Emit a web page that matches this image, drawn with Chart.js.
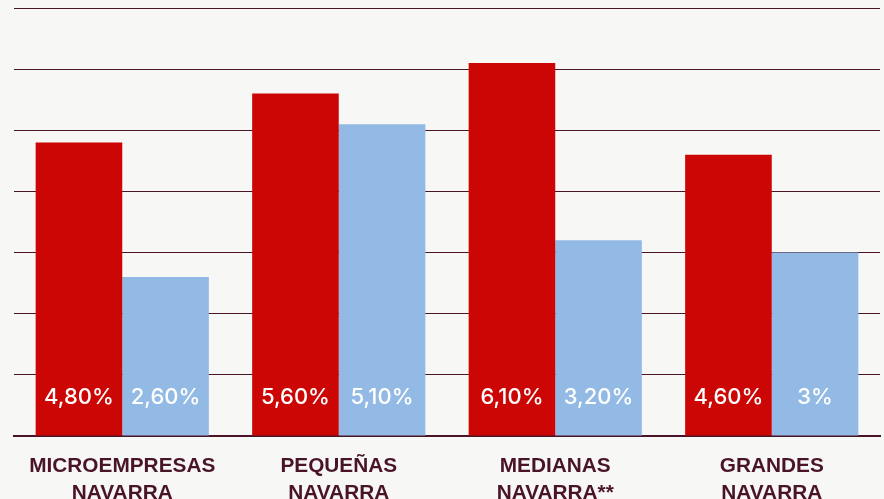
<!DOCTYPE html>
<html>
<head>
<meta charset="utf-8">
<script src="https://cdn.jsdelivr.net/npm/chart.js@4/dist/chart.umd.min.js"></script>
<style>
  html, body { margin: 0; padding: 0; background: #f7f7f5; }
  #wrap { width: 884px; height: 499px; }
</style>
</head>
<body>
<div id="wrap"><canvas id="grafica"></canvas></div>
<script>
const categorias = [
  ["MICROEMPRESAS", "NAVARRA"],
  ["PEQUEÑAS", "NAVARRA"],
  ["MEDIANAS", "NAVARRA**"],
  ["GRANDES", "NAVARRA"]
]
const valoresRojo = [4.8, 5.6, 6.1, 4.6]
const valoresAzul = [2.6, 5.1, 3.2, 3]
const etiquetasRojo = ["4,80%", "5,60%", "6,10%", "4,60%"]
const etiquetasAzul = ["2,60%", "5,10%", "3,20%", "3%"]

const granate = "#4a1428"

const etiquetasDentro = {
  id: "etiquetasDentro",
  afterDatasetsDraw(chart) {
    const ctx = chart.ctx
    const base = chart.scales.y.getPixelForValue(0)
    const textos = [etiquetasRojo, etiquetasAzul]
    ctx.save()
    ctx.fillStyle = "#ffffff"
    ctx.font = "500 22px Inter, 'Liberation Sans', sans-serif"
    ctx.textAlign = "center"
    ctx.textBaseline = "middle"
    chart.data.datasets.forEach((ds, i) => {
      chart.getDatasetMeta(i).data.forEach((barra, j) => {
        ctx.fillText(textos[i][j], barra.x, base - 39)
      })
    })
    ctx.restore()
  }
}

const config = {
  type: "bar",
  data: {
    labels: categorias,
    datasets: [
      {
        data: valoresRojo,
        backgroundColor: "#cc0605",
        categoryPercentage: 0.8,
        barPercentage: 1
      },
      {
        data: valoresAzul,
        backgroundColor: "#92bae4",
        categoryPercentage: 0.8,
        barPercentage: 1
      }
    ]
  },
  options: {
    responsive: true,
    maintainAspectRatio: false,
    animation: false,
    layout: { padding: { left: 14, right: 4, top: 8, bottom: 0 } },
    plugins: {
      legend: { display: false },
      tooltip: { enabled: false }
    },
    scales: {
      x: {
        grid: { display: false },
        border: { display: true, color: granate, width: 2 },
        ticks: {
          color: granate,
          font: { family: "'Liberation Sans', Arial, sans-serif", size: 20.8, weight: "bold", lineHeight: 1.28 },
          padding: 9,
          maxRotation: 0,
          autoSkip: false
        },
        afterFit: (scale) => { scale.height = 63 }
      },
      y: {
        min: 0,
        max: 7,
        ticks: { display: false, stepSize: 1 },
        border: { display: false },
        grid: { color: granate, lineWidth: 1, drawTicks: false }
      }
    }
  },
  plugins: [etiquetasDentro]
}

new Chart(document.getElementById("grafica"), config)
</script>
</body>
</html>
